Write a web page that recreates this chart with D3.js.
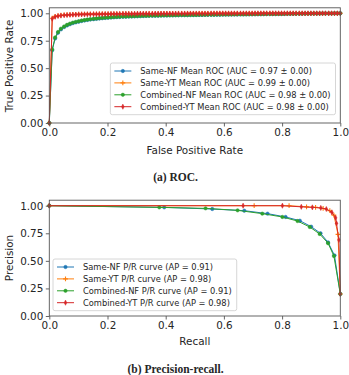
<!DOCTYPE html>
<html>
<head>
<meta charset="utf-8">
<script src="https://cdn.jsdelivr.net/npm/d3@7"></script>
<style>
  body { margin: 0; background: #fff; }
  svg { display: block; }
  text { font-family: "DejaVu Sans", sans-serif; fill: #262626; }
  .caption { font-family: "Liberation Serif", serif; font-weight: bold; }
</style>
</head>
<body>
<div id="chart"></div>
<script>
// ---- data: mean ROC curves on a common FPR grid ----
var fprGrid = [0, .010, .020, .030, .040, .051, .061, .071, .081, .091,
  .101, .111, .121, .131, .141, .152, .162, .172, .182, .192,
  .202, .212, .222, .232, .242, .253, .263, .273, .283, .293,
  .303, .313, .323, .333, .343, .354, .364, .374, .384, .394,
  .404, .414, .424, .434, .444, .455, .465, .475, .485, .495,
  .505, .515, .525, .535, .545, .556, .566, .576, .586, .596,
  .606, .616, .626, .636, .646, .657, .667, .677, .687, .697,
  .707, .717, .727, .737, .747, .758, .768, .778, .788, .798,
  .808, .818, .828, .838, .848, .859, .869, .879, .889, .899,
  .909, .919, .929, .939, .949, .960, .970, .980, .990, 1];

var tprSameNF = [0, .662, .770, .822, .853, .874, .889, .900, .910, .917,
  .923, .929, .934, .939, .943, .946, .949, .952, .955, .957,
  .959, .961, .963, .965, .966, .968, .969, .970, .971, .972,
  .973, .974, .975, .976, .977, .977, .978, .978, .979, .980,
  .980, .981, .981, .982, .982, .983, .983, .983, .984, .984,
  .985, .985, .985, .986, .986, .986, .987, .987, .987, .988,
  .988, .988, .989, .989, .989, .990, .990, .990, .991, .991,
  .991, .992, .992, .992, .993, .993, .993, .993, .994, .994,
  .994, .995, .995, .995, .996, .996, .996, .997, .997, .997,
  .998, .998, .998, .999, .999, .999, .999, 1, 1, 1];

var tprSameYT = [0, .955, .972, .978, .982, .985, .987, .988, .989, .990,
  .991, .991, .992, .992, .993, .993, .993, .994, .994, .994,
  .994, .995, .995, .995, .995, .996, .996, .996, .996, .996,
  .996, .997, .997, .997, .997, .997, .997, .997, .998, .998,
  .998, .998, .998, .998, .998, .998, .998, .999, .999, .999,
  .999, .999, .999, .999, .999, .999, .999, .999, .999, .999,
  1, 1, 1, 1, 1, 1, 1, 1, 1, 1,
  1, 1, 1, 1, 1, 1, 1, 1, 1, 1,
  1, 1, 1, 1, 1, 1, 1, 1, 1, 1,
  1, 1, 1, 1, 1, 1, 1, 1, 1, 1];

var tprCombNF = [0, .670, .780, .830, .860, .880, .895, .906, .915, .922,
  .928, .934, .939, .943, .947, .950, .953, .956, .958, .960,
  .962, .964, .966, .967, .969, .970, .971, .972, .973, .974,
  .975, .976, .977, .977, .978, .979, .979, .980, .980, .981,
  .981, .982, .982, .983, .983, .984, .984, .984, .985, .985,
  .985, .986, .986, .986, .987, .987, .987, .988, .988, .988,
  .989, .989, .989, .990, .990, .990, .990, .991, .991, .991,
  .992, .992, .992, .993, .993, .993, .993, .994, .994, .994,
  .995, .995, .995, .996, .996, .996, .997, .997, .997, .998,
  .998, .998, .998, .999, .999, .999, .999, 1, 1, 1];

var tprCombYT = [0, .950, .968, .975, .979, .982, .984, .986, .987, .988,
  .989, .990, .990, .991, .991, .992, .992, .992, .993, .993,
  .993, .994, .994, .994, .994, .995, .995, .995, .995, .995,
  .996, .996, .996, .996, .996, .996, .997, .997, .997, .997,
  .997, .997, .997, .997, .998, .998, .998, .998, .998, .998,
  .998, .998, .998, .998, .998, .999, .999, .999, .999, .999,
  .999, .999, .999, .999, .999, .999, .999, .999, .999, .999,
  1, 1, 1, 1, 1, 1, 1, 1, 1, 1,
  1, 1, 1, 1, 1, 1, 1, 1, 1, 1,
  1, 1, 1, 1, 1, 1, 1, 1, 1, 1];

var rocNames = ["Same-NF Mean ROC (AUC = 0.97 \u00b1 0.00)",
  "Same-YT Mean ROC (AUC = 0.99 \u00b1 0.00)",
  "Combined-NF Mean ROC (AUC = 0.98 \u00b1 0.00)",
  "Combined-YT Mean ROC (AUC = 0.98 \u00b1 0.00)"];

// ---- data: precision / recall curves ----
var recSameNF = [0, .395, .560, .670, .750, .812, .861, .900, .932, .958, .980, 1];
var precSameNF = [1, .985, .970, .955, .928, .898, .864, .810, .750, .668, .550, .20];
var recSameYT = [0, .704, .824, .884, .915, .941, .964, .978, .992, 1];
var precSameYT = [1, 1, 1, .990, .985, .975, .955, .915, .740, .20];
var recCombNF = [0, .378, .537, .647, .732, .801, .853, .895, .929, .958, .978, 1];
var precCombNF = [1, .985, .976, .958, .928, .898, .861, .807, .744, .660, .544, .20];
var recCombYT = [0, .666, .801, .866, .904, .933, .952, .971, .984, .987, .995, 1];
var precCombYT = [1, 1, 1, .990, .985, .980, .970, .940, .890, .840, .690, .20];

var prNames = ["Same-NF P/R curve (AP = 0.91)",
  "Same-YT P/R curve (AP = 0.98)",
  "Combined-NF P/R curve (AP = 0.91)",
  "Combined-YT P/R curve (AP = 0.98)"];

var xTicks = [0, 0.2, 0.4, 0.6, 0.8, 1.0];
var yTicks = [0, 0.25, 0.5, 0.75, 1.0];

var colors = ["#1f77b4", "#ff7f0e", "#2ca02c", "#d62728"];
var markers = ["o", "+", "o", "d"];

var W = 349, H = 375;
var svg = d3.select("#chart").append("svg").attr("width", W).attr("height", H);

function drawMarker(g, type, color) {
  if (type === "o") {
    g.append("circle").attr("r", 1.7).attr("fill", color).attr("stroke", color).attr("stroke-width", 0.5);
  } else if (type === "+") {
    g.append("path").attr("d", "M-2.4,0H2.4M0,-2.4V2.4")
      .attr("stroke", color).attr("stroke-width", 1.1).attr("fill", "none");
  } else {
    g.append("path").attr("d", "M0,-2.6L1.3,0L0,2.6L-1.3,0Z")
      .attr("fill", color).attr("stroke", color).attr("stroke-width", 0.5);
  }
}

function panel(opt) {
  var x = d3.scaleLinear().domain([0, 1]).range([49.3, 340.3]);
  var y = d3.scaleLinear().domain([0, 1.05]).range([opt.bottom, opt.top]);
  var g = svg.append("g");

  // series
  opt.series.forEach(function (s, i) {
    var pts = s.xs.map(function (v, k) { return [v, s.ys[k]]; });
    var line = d3.line().x(function (d) { return x(d[0]); }).y(function (d) { return y(d[1]); });
    g.append("path").datum(pts).attr("d", line)
      .attr("fill", "none").attr("stroke", colors[i]).attr("stroke-width", 1);
    pts.forEach(function (p) {
      var m = g.append("g").attr("transform", "translate(" + x(p[0]) + "," + y(p[1]) + ")");
      drawMarker(m, markers[i], colors[i]);
    });
  });

  // frame
  g.append("rect").attr("x", x(0)).attr("y", y(1.05))
    .attr("width", x(1) - x(0)).attr("height", y(0) - y(1.05))
    .attr("fill", "none").attr("stroke", "#555").attr("stroke-width", 0.9);

  // axes
  var xa = g.append("g").attr("transform", "translate(0," + y(0) + ")")
    .call(d3.axisBottom(x).tickValues(xTicks).tickFormat(d3.format(".1f")).tickSize(3.5).tickPadding(2.5));
  var ya = g.append("g").attr("transform", "translate(" + x(0) + ",0)")
    .call(d3.axisLeft(y).tickValues(yTicks).tickFormat(d3.format(".2f")).tickSize(3.5).tickPadding(2.5));
  [xa, ya].forEach(function (a) {
    a.select(".domain").remove();
    a.selectAll("line").attr("stroke", "#555").attr("stroke-width", 0.9);
    a.selectAll("text").attr("font-size", "10.4px").attr("font-family", "DejaVu Sans").attr("fill", "#262626");
  });

  g.append("text").attr("x", (x(0) + x(1)) / 2).attr("y", opt.xLabelY)
    .attr("text-anchor", "middle").attr("font-size", "10.4px").text(opt.xLabel);
  g.append("text").attr("transform", "translate(12.5," + opt.yLabelMid + ") rotate(-90)")
    .attr("text-anchor", "middle").attr("font-size", "10.4px").text(opt.yLabel);

  // legend
  var lg = g.append("g");
  var box = lg.append("rect").attr("rx", 2).attr("ry", 2)
    .attr("fill", "#fff").attr("fill-opacity", 0.85).attr("stroke", "#ccc").attr("stroke-width", 0.8);
  var maxW = 0;
  opt.names.forEach(function (n, i) {
    var row = lg.append("g").attr("transform", "translate(0," + (i * 11.9) + ")");
    row.append("line").attr("x1", 4).attr("x2", 21).attr("y1", 0).attr("y2", 0)
      .attr("stroke", colors[i]).attr("stroke-width", 1);
    drawMarker(row.append("g").attr("transform", "translate(12.5,0)"), markers[i], colors[i]);
    var t = row.append("text").attr("x", 30).attr("y", 0).attr("dy", "0.35em")
      .attr("font-size", "8.3px").text(n);
    maxW = Math.max(maxW, t.node().getComputedTextLength());
  });
  var bw = 30 + maxW + 5;
  box.attr("x", 0).attr("y", -8).attr("width", bw).attr("height", 3 * 11.9 + 16);
  var lx = opt.legendRight ? opt.legendRight - bw : opt.legendLeft;
  lg.attr("transform", "translate(" + lx + "," + opt.legendTop + ")");

  svg.append("text").attr("class", "caption").attr("x", 175.5).attr("y", opt.captionY)
    .attr("text-anchor", "middle").attr("font-size", "11.5px").text(opt.caption);
}

panel({
  top: 7.8, bottom: 123,
  series: [
    { xs: fprGrid, ys: tprSameNF },
    { xs: fprGrid, ys: tprSameYT },
    { xs: fprGrid, ys: tprCombNF },
    { xs: fprGrid, ys: tprCombYT }
  ],
  names: rocNames,
  xLabel: "False Positive Rate", yLabel: "True Positive Rate",
  xLabelY: 153.5, yLabelMid: 66,
  legendRight: 335.5, legendTop: 71,
  caption: "(a) ROC.", captionY: 180.5
});

panel({
  top: 200.2, bottom: 316,
  series: [
    { xs: recSameNF, ys: precSameNF },
    { xs: recSameYT, ys: precSameYT },
    { xs: recCombNF, ys: precCombNF },
    { xs: recCombYT, ys: precCombYT }
  ],
  names: prNames,
  xLabel: "Recall", yLabel: "Precision",
  xLabelY: 345, yLabelMid: 258,
  legendLeft: 53, legendTop: 267,
  caption: "(b) Precision-recall.", captionY: 372.5
});
</script>
</body>
</html>
